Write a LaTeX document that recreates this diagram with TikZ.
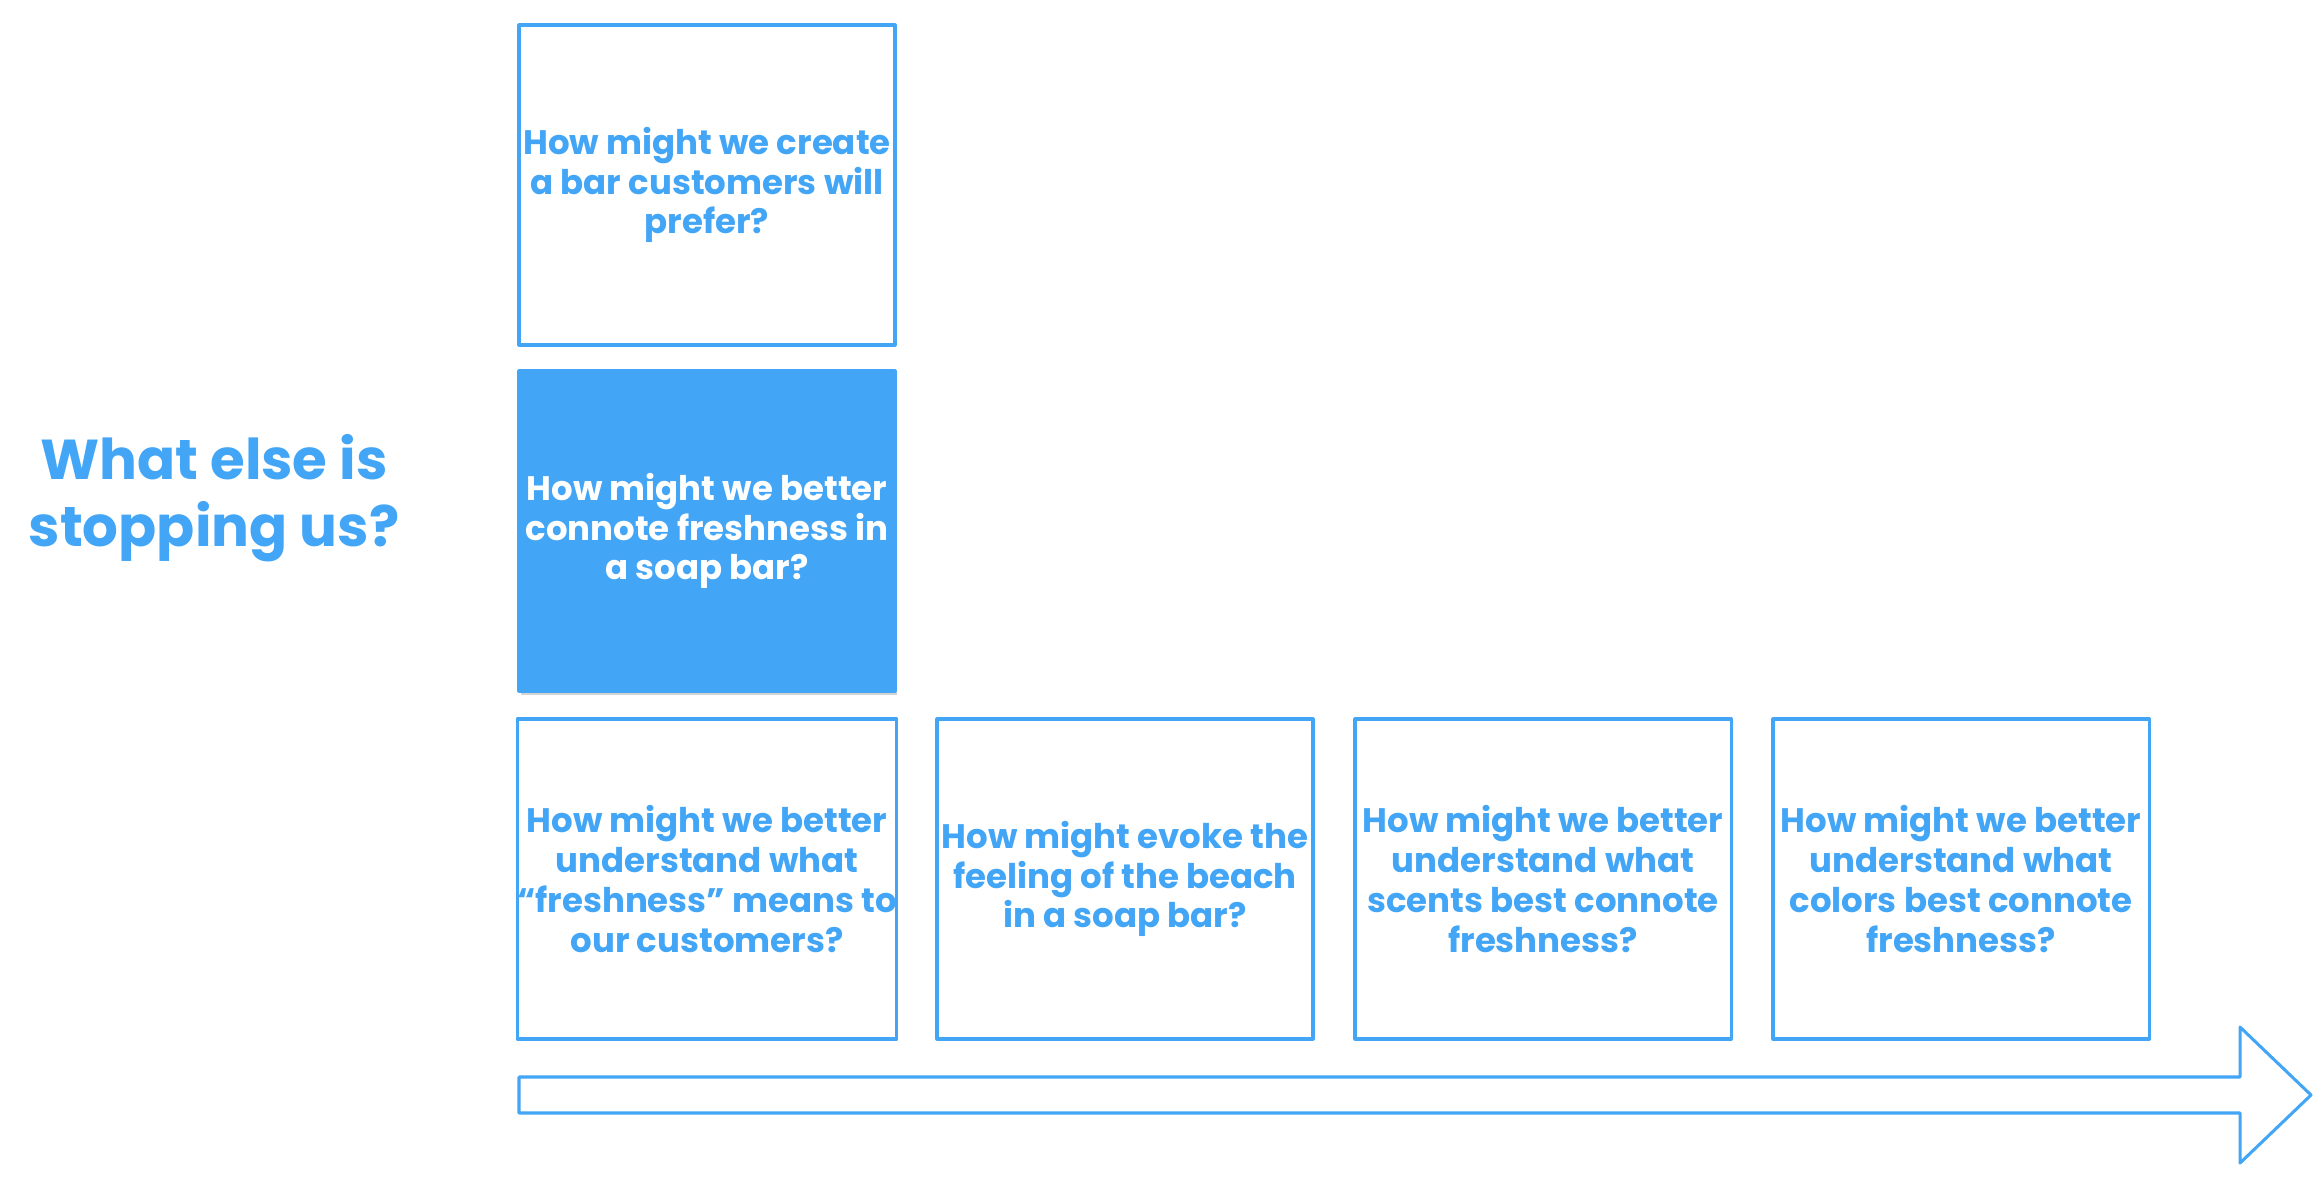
\documentclass[tikz,border=0pt]{standalone}
\usepackage{fontspec}
\newfontfamily\hmwfont{Poppins}
\usetikzlibrary{shadows}
\definecolor{hmwblue}{HTML}{42A5F5}
\tikzset{
  qbox/.style={draw=hmwblue, line width=2.6pt, minimum width=112.8mm, minimum height=96mm,
    inner sep=0pt, align=center, text=hmwblue, font=\hmwfont\bfseries\fontsize{29}{34}\selectfont},
  qfocus/.style={qbox, fill=hmwblue, text=white,
    drop shadow={shadow xshift=0.6mm, shadow yshift=-1.2mm, opacity=0.35}},
}
\begin{document}
\begin{tikzpicture}[x=0.3mm, y=-0.3mm, line join=round]
\useasboundingbox (0,0) rectangle (2324,1180);
% question
\node[text=hmwblue, align=center, font=\hmwfont\bfseries\fontsize{48}{57}\selectfont] (title) at (214,498) {What else is\\stopping us?};
% column of questions
\node[qbox] (top) at (707,185) {How might we create\\a bar customers will\\prefer?};
\node[qfocus] (focus) at (707,531) {How might we better\\connote freshness in\\a soap bar?};
% row of questions
\node[qbox] (fresh) at (707,879) {How might we better\\understand what\\“freshness” means to\\our customers?};
\node[qbox] (beach) at (1125,879) {How might evoke the\\feeling of the beach\\in a soap bar?};
\node[qbox] (scent) at (1543,879) {How might we better\\understand what\\scents best connote\\freshness?};
\node[qbox] (color) at (1961,879) {How might we better\\understand what\\colors best connote\\freshness?};
% arrow
\draw[hmwblue, line width=2.6pt] (519,1077)--(2240,1077)--(2240,1027)--(2311,1095)--(2240,1163)--(2240,1113)--(519,1113)--cycle;
\end{tikzpicture}
\end{document}
